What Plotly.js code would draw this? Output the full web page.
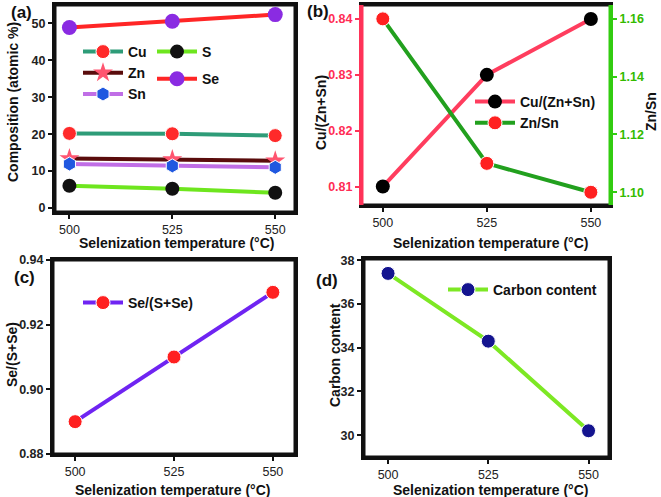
<!DOCTYPE html>
<html>
<head>
<meta charset="utf-8">
<script src="https://cdn.plot.ly/plotly-3.0.1.min.js"></script>
<style>html,body{margin:0;padding:0;background:#fff}#wrap{position:relative;width:661px;height:497px}.pn{position:absolute;left:0;top:0;width:661px;height:497px}.modebar-container,.modebar{display:none !important}</style>
</head>
<body>
<div id="wrap"><div id="pa" class="pn"></div><div id="pb" class="pn"></div><div id="pc" class="pn"></div><div id="pd" class="pn"></div></div>
<script>
// ---- data ----
var temps = [500, 525, 550];
var tempTicks = [500, 525, 550];
// (a) composition (atomic %)
var cuComp = [20.2, 20.1, 19.6];
var znComp = [13.4, 13.1, 12.8];
var snComp = [11.9, 11.4, 11.0];
var sComp = [6.0, 5.2, 4.1];
var seComp = [48.9, 50.6, 52.4];
// (b) ratios
var cuRatio = [0.81, 0.83, 0.84];
var znSnRatio = [1.16, 1.11, 1.10];
// (c)
var seRatio = [0.89, 0.91, 0.93];
// (d)
var carbon = [37.4, 34.3, 30.2];

var FONT = 'Liberation Sans, Arial, sans-serif';
var W = 661, H = 497;
var tickFont = {family:FONT, size:12.5, color:'#222'};
var xTitle = 'Selenization temperature (°C)';

function xAx(range){
  return {range:range, tickmode:'array', tickvals:tempTicks, ticks:'outside', ticklen:4, tickwidth:2, tickcolor:'#111111',
    tickprefix:'<b>', ticksuffix:'</b>',
    showline:true, linewidth:3, linecolor:'#111111', mirror:true, showgrid:false, zeroline:false, tickfont:tickFont};
}
function yAx(range, dtick, fmt, extra){
  var a = {range:range, dtick:dtick, tickformat:fmt, ticks:'outside', ticklen:4, tickwidth:2, tickcolor:'#111111',
    tickprefix:'<b>', ticksuffix:'</b>',
    showline:true, linewidth:3, linecolor:'#111111', mirror:true, showgrid:false, zeroline:false, tickfont:tickFont};
  for (var k in extra) a[k] = extra[k];
  return a;
}
function frameRect(){
  return {type:'rect', xref:'x domain', yref:'y domain', x0:0, x1:1, y0:0, y1:1, layer:'above', line:{color:'#111111', width:3}};
}
function side(x0, x1, y0, y1, col){
  return {type:'line', xref:'x domain', yref:'y domain', x0:x0, x1:x1, y0:y0, y1:y1, layer:'above', line:{color:col, width:3}};
}

// one panel figure; box = [left, top, right, bottom] of the plot area in page pixels
function panel(id, box, traces, axes, legends, texts, shapes){
  var L = box[0], T = box[1], R = box[2], B = box[3];
  var pw = R - L, ph = B - T;
  function gx(x){return (x - L) / pw;}
  function gy(y){return 1 - (y - T) / ph;}
  var layout = {width:W, height:H, margin:{l:L, r:W - R, t:T, b:H - B},
    paper_bgcolor:'rgba(0,0,0,0)', plot_bgcolor:'rgba(0,0,0,0)', font:{family:FONT}, showlegend:true,
    shapes:shapes, annotations:[]};
  for (var k in axes) layout[k] = axes[k];
  legends.forEach(function(lg){
    layout[lg.name] = {x:gx(lg.x), y:gy(lg.y), xanchor:'left', yanchor:'top', bgcolor:'rgba(0,0,0,0)', borderwidth:0,
      font:{family:FONT, size:14, color:'#111'}, tracegroupgap:lg.gap || 0, itemwidth:40};
  });
  texts.forEach(function(t){
    layout.annotations.push({text:'<b>' + t.text + '</b>', xref:'paper', yref:'paper', x:gx(t.x), y:gy(t.y), showarrow:false,
      xanchor:'center', yanchor:'middle', textangle:t.angle || 0,
      font:{family:FONT, size:t.size || 14, color:'#111'}});
  });
  return Plotly.newPlot(id, traces, layout);
}
function nm(s){return '<b>' + s + '</b>';}

// (a)
panel('pa', [55, 5, 295, 212], [
  {x:temps, y:cuComp, name:nm('Cu'), mode:'lines+markers', legend:'legend',
   line:{color:'#2e9c78', width:4}, marker:{symbol:'circle', size:14, color:'#ff2a2a', line:{color:'#ffffff', width:1}}},
  {x:temps, y:sComp, name:nm('S'), mode:'lines+markers', legend:'legend2', legendgroup:'g1',
   line:{color:'#6ee61e', width:4}, marker:{symbol:'circle', size:14, color:'#111111'}},
  {x:temps, y:znComp, name:nm('Zn'), mode:'lines+markers', legend:'legend',
   line:{color:'#5a0c0c', width:4}, marker:{symbol:'star', size:15, color:'#ff5570'}},
  {x:temps, y:seComp, name:nm('Se'), mode:'lines+markers', legend:'legend2', legendgroup:'g2',
   line:{color:'#ff2626', width:4}, marker:{symbol:'circle', size:15, color:'#8a2be2'}},
  {x:temps, y:snComp, name:nm('Sn'), mode:'lines+markers', legend:'legend',
   line:{color:'#c06ee6', width:4}, marker:{symbol:'hexagon', size:14, color:'#2058e0', line:{color:'#ffffff', width:1}}}
], {xaxis:xAx([496.5, 554.8]), yaxis:yAx([-1.1, 55], 10, 'd')},
[{name:'legend', x:78, y:36}, {name:'legend2', x:152, y:36, gap:6}],
[{text:'(a)', x:21, y:12, size:17}, {text:'Composition (atomic %)', x:13, y:102, angle:-90}, {text:xTitle, x:176, y:243}],
[frameRect()]);

// (b)
panel('pb', [362, 5, 610, 205], [
  {x:temps, y:cuRatio, name:nm('Cu/(Zn+Sn)'), mode:'lines+markers', yaxis:'y', legend:'legend',
   line:{color:'#ff3d5e', width:4}, marker:{symbol:'circle', size:14, color:'#000000'}},
  {x:temps, y:znSnRatio, name:nm('Zn/Sn'), mode:'lines+markers', yaxis:'y2', legend:'legend',
   line:{color:'#22a01e', width:4}, marker:{symbol:'circle', size:14, color:'#ff2020', line:{color:'#ffffff', width:1}}}
], {xaxis:xAx([495, 554.6]),
    yaxis:yAx([0.8067, 0.8425], 0.01, '.2f', {mirror:false, linecolor:'#ff3358', tickcolor:'#ff3358',
      tickfont:{family:FONT, size:12.5, color:'#ff2d55'}}),
    yaxis2:yAx([1.0956, 1.1648], 0.02, '.2f', {mirror:false, overlaying:'y', side:'right', anchor:'x',
      linecolor:'#33cc11', tickcolor:'#33cc11', tickfont:{family:FONT, size:12.5, color:'#33bb00'}})},
[{name:'legend', x:470, y:86}],
[{text:'(b)', x:318, y:11, size:17}, {text:'Cu/(Zn+Sn)', x:321, y:113, angle:-90}, {text:'Zn/Sn', x:651, y:112, angle:-90},
 {text:xTitle, x:490, y:243}],
[side(0, 1, 0, 0, '#111111'), side(0, 1, 1, 1, '#111111'), side(0, 0, 0, 1, '#ff3358'), side(1, 1, 0, 1, '#33cc11')]);

// (c)
panel('pc', [53, 260, 295, 454], [
  {x:temps, y:seRatio, name:nm('Se/(S+Se)'), mode:'lines+markers', legend:'legend',
   line:{color:'#6f24f2', width:4}, marker:{symbol:'circle', size:14, color:'#ff2020', line:{color:'#ffffff', width:1}}}
], {xaxis:xAx([494.4, 555.6]), yaxis:yAx([0.88, 0.94], 0.02, '.2f')},
[{name:'legend', x:78, y:287}],
[{text:'(c)', x:24, y:277, size:17}, {text:'Se/(S+Se)', x:12, y:355, angle:-90}, {text:xTitle, x:172, y:490}],
[frameRect()]);

// (d)
panel('pd', [364, 259, 609, 457], [
  {x:temps, y:carbon, name:nm('Carbon content'), mode:'lines+markers', legend:'legend',
   line:{color:'#7de824', width:4}, marker:{symbol:'circle', size:14, color:'#14148f', line:{color:'#ffffff', width:1}}}
], {xaxis:xAx([494, 555.1]), yaxis:yAx([29.0, 38.06], 2, 'd')},
[{name:'legend', x:443, y:274}],
[{text:'(d)', x:327, y:280, size:17}, {text:'Carbon content', x:335, y:355, angle:-90}, {text:xTitle, x:490, y:490}],
[frameRect()]);
</script>
</body>
</html>
